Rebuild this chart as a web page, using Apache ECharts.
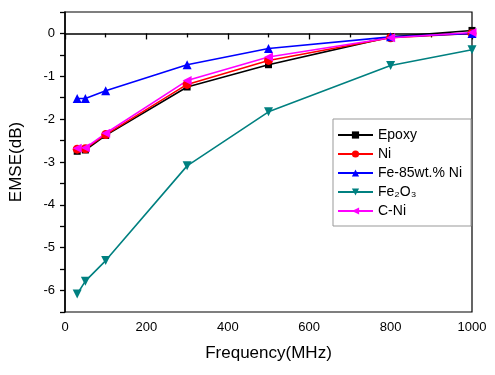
<!DOCTYPE html>
<html>
<head>
<meta charset="utf-8">
<script src="https://cdn.jsdelivr.net/npm/echarts@6/dist/echarts.min.js"></script>
<style>
  html, body { margin: 0; padding: 0; background: #fff; }
  #chart { width: 495px; height: 375px; }
</style>
</head>
<body>
<div id="chart"></div>
<script>
// frequency points (MHz)
const freq = [30, 50, 100, 300, 500, 800, 1000];

// EMSE (dB) per sample
const epoxy = [-2.75, -2.72, -2.38, -1.25, -0.73, -0.08, 0.07];
const ni = [-2.70, -2.69, -2.36, -1.19, -0.63, -0.10, 0.00];
const feNi = [-1.52, -1.52, -1.34, -0.73, -0.35, -0.08, 0.00];
const fe2o3 = [-6.08, -5.78, -5.30, -3.09, -1.83, -0.75, -0.38];
const cNi = [-2.68, -2.67, -2.33, -1.10, -0.55, -0.10, 0.02];

const seriesNames = ['Epoxy', 'Ni', 'Fe-85wt.% Ni', 'Fe₂O₃', 'C-Ni'];
const seriesColors = ['#000000', '#ff0000', '#0000ff', '#008080', '#ff00ff'];
const seriesSymbols = ['rect', 'circle', 'triangle', 'triangle', 'triangle'];
const symbolRotates = [0, 0, 0, 180, 90];
const seriesData = [epoxy, ni, feNi, fe2o3, cNi];

const font = 'Arial, "Liberation Sans", sans-serif';
const chart = echarts.init(document.getElementById('chart'));

const series = seriesNames.map((name, i) => ({
    name: name,
    type: 'line',
    data: freq.map((f, j) => [f, seriesData[i][j]]),
    symbol: seriesSymbols[i],
    symbolRotate: symbolRotates[i],
    symbolSize: seriesSymbols[i] === 'rect' ? 7 : 9,
    showAllSymbol: true,
    itemStyle: { color: seriesColors[i] },
    lineStyle: { color: seriesColors[i], width: 1.6 },
    z: i === 0 ? 2 : 3
}));

const option = {
    animation: false,
    backgroundColor: '#ffffff',
    textStyle: { fontFamily: font },
    grid: {
        left: 65,
        right: 23,
        top: 12,
        bottom: 63,
        show: true,
        borderColor: '#000',
        borderWidth: 1.2
    },
    legend: {
        orient: 'vertical',
        left: 333,
        top: 119,
        width: 139,
        padding: [9, 9, 8, 4],
        backgroundColor: '#fff',
        borderColor: '#999',
        borderWidth: 1,
        itemWidth: 35,
        itemHeight: 9,
        itemGap: 5,
        textStyle: { fontFamily: font, fontSize: 14, color: '#000' },
        data: seriesNames
    },
    xAxis: {
        type: 'value',
        min: 0,
        max: 1000,
        interval: 200,
        name: 'Frequency(MHz)',
        nameLocation: 'middle',
        nameGap: 33,
        nameTextStyle: { fontFamily: font, fontSize: 17, color: '#000' },
        axisLine: { lineStyle: { color: '#000', width: 1.5 } },
        axisTick: { inside: false, length: 6, lineStyle: { color: '#000', width: 1.3 } },
        minorTick: { show: true, splitNumber: 2, length: 4, lineStyle: { color: '#000', width: 1.3 } },
        axisLabel: { fontFamily: font, fontSize: 13, color: '#000', margin: 9, formatter: v => String(v) },
        splitLine: { show: false }
    },
    yAxis: {
        type: 'value',
        min: -6.5,
        max: 0.5,
        interval: 0.5,
        name: 'EMSE(dB)',
        nameLocation: 'middle',
        nameGap: 40,
        nameTextStyle: { fontFamily: font, fontSize: 17, color: '#000' },
        axisLine: { show: true, lineStyle: { color: '#000', width: 1.5 } },
        axisTick: { inside: false, length: 5, lineStyle: { color: '#000', width: 1.3 } },
        axisLabel: {
            fontFamily: font,
            fontSize: 13,
            color: '#000',
            margin: 10,
            formatter: v => (Number.isInteger(v) && v <= 0 ? String(v) : '')
        },
        splitLine: { show: false }
    },
    series: series
};

chart.setOption(option);
</script>
</body>
</html>
